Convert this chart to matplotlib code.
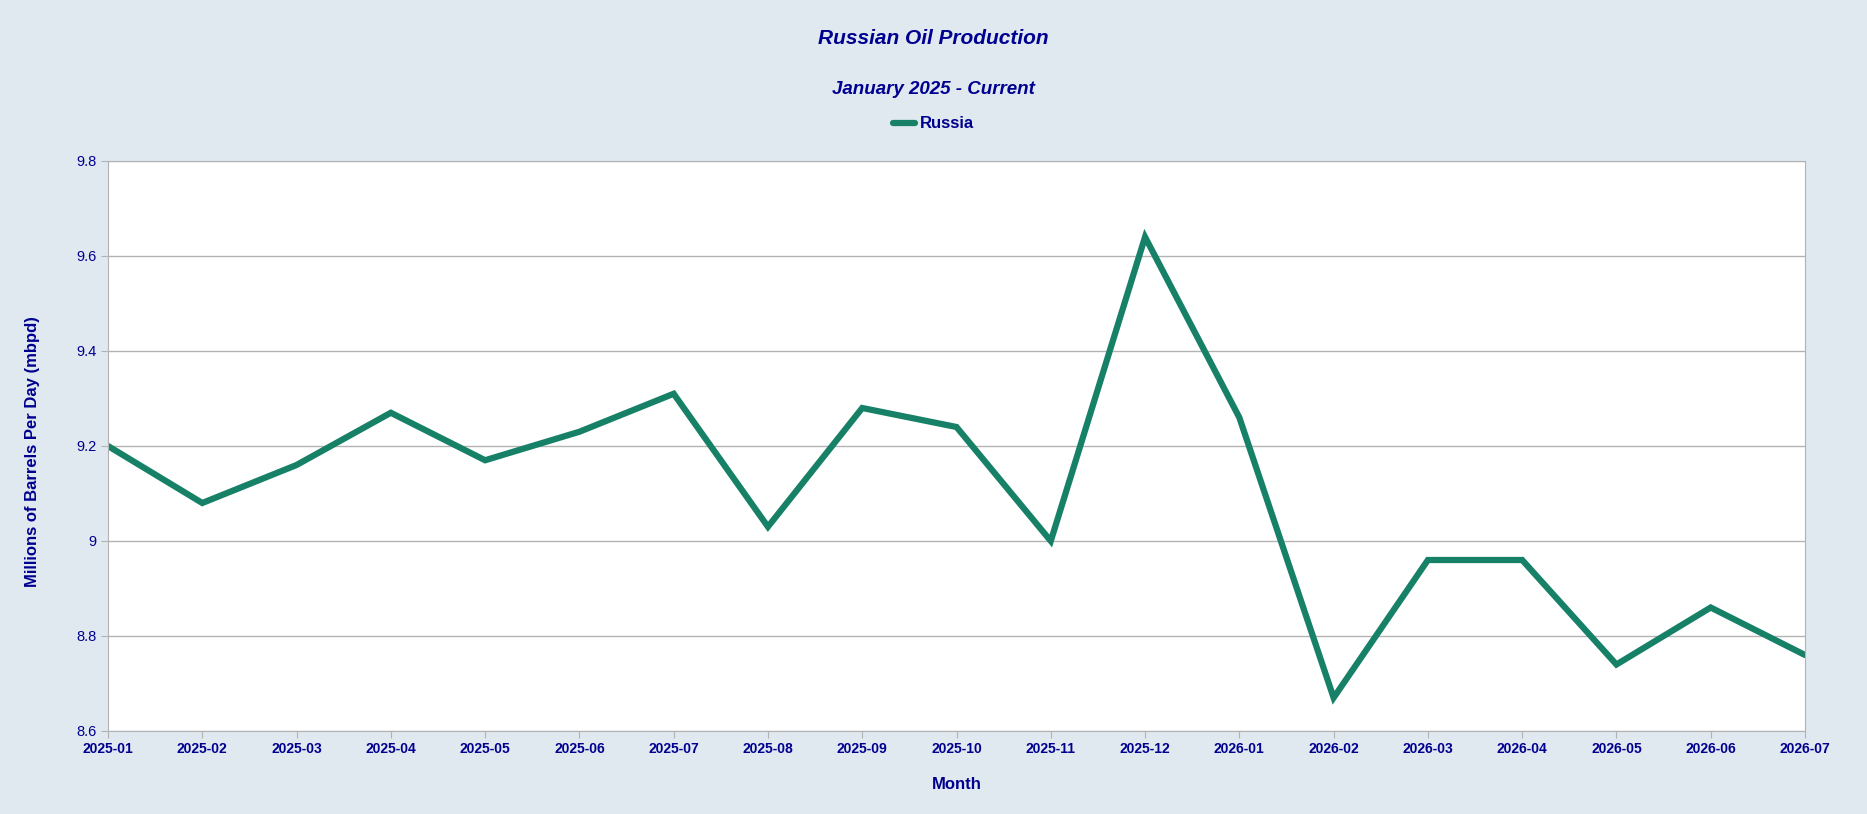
import matplotlib.pyplot as plt

months = ['2025-01', '2025-02', '2025-03', '2025-04', '2025-05', '2025-06', '2025-07',
          '2025-08', '2025-09', '2025-10', '2025-11', '2025-12', '2026-01', '2026-02',
          '2026-03', '2026-04', '2026-05', '2026-06', '2026-07']
russia = [9.20, 9.08, 9.16, 9.27, 9.17, 9.23, 9.31, 9.03, 9.28, 9.24, 9.00, 9.64, 9.26,
          8.67, 8.96, 8.96, 8.74, 8.86, 8.76]
y_ticks = [8.6, 8.8, 9.0, 9.2, 9.4, 9.6, 9.8]
y_labels = ['8.6', '8.8', '9', '9.2', '9.4', '9.6', '9.8']

navy = '#000090'
bg = '#e0e8f0'
plt.rcParams['font.family'] = ['Liberation Sans', 'DejaVu Sans']

fig = plt.figure(figsize=(18.67, 8.14), dpi=100, facecolor=bg)
ax = fig.add_axes([108 / 1867, 1 - 731 / 814, (1805 - 108) / 1867, (731 - 161) / 814])
ax.set_facecolor('white')

x = list(range(len(months)))
line, = ax.plot(x, russia, color='#168166', linewidth=4.5, label='Russia', solid_capstyle='round',
                solid_joinstyle='miter')

ax.set_xlim(0, len(months) - 1)
ax.set_ylim(8.6, 9.8)
ax.set_xticks(x)
ax.set_xticklabels(months, fontsize=10, fontweight='bold', color=navy)
ax.set_yticks(y_ticks)
ax.set_yticklabels(y_labels, fontsize=10.5, color=navy)
ax.grid(axis='y', color='#b3b3b3', linewidth=1)
ax.set_axisbelow(True)
ax.tick_params(axis='both', color='#b3b3b3', length=5, pad=3)
for s in ax.spines.values():
    s.set_color('#b3b3b3')

ax.set_xlabel('Month', fontsize=12, fontweight='bold', color=navy, labelpad=15)
ax.set_ylabel('Millions of Barrels Per Day (mbpd)', fontsize=12, fontweight='bold', color=navy,
              labelpad=28)
ax.yaxis.set_label_coords(-0.04, 0.49)

fig.text(0.5, 1 - 39 / 814, 'Russian Oil Production', ha='center', va='center', fontsize=15,
         fontweight='bold', fontstyle='italic', color=navy)
fig.text(0.5, 1 - 90 / 814, 'January 2025 - Current', ha='center', va='center', fontsize=13.5,
         fontweight='bold', fontstyle='italic', color=navy)

fig.legend(handles=[line], loc='center', bbox_to_anchor=(0.5, 1 - 124 / 814), frameon=False,
           labelcolor=navy, handlelength=1.3, handletextpad=0.3,
           prop={'weight': 'bold', 'size': 12})

fig.savefig('out.png', dpi=100, facecolor=bg)
